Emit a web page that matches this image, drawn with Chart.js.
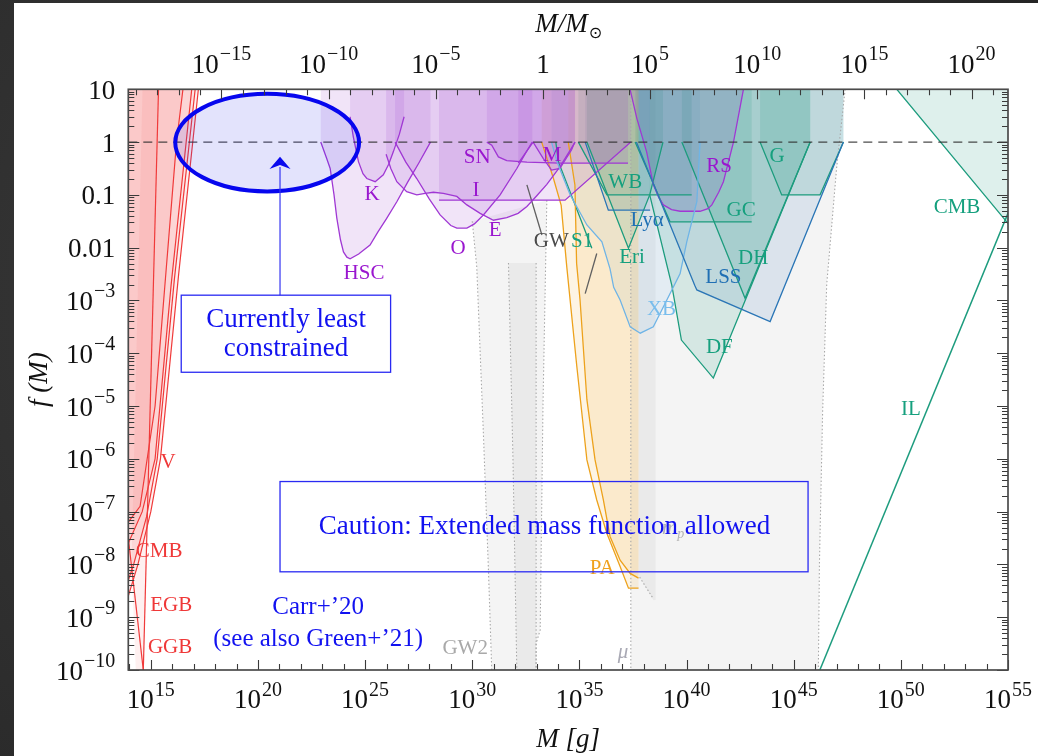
<!DOCTYPE html>
<html>
<head>
<meta charset="utf-8">
<script src="https://cdn.jsdelivr.net/npm/chart.js@4.4.1/dist/chart.umd.min.js"></script>
<style>
  html, body { margin: 0; padding: 0; width: 1038px; height: 756px; overflow: hidden;
    background: radial-gradient(circle at 30% 40%, #3a3a3a, #232323); }
  #panel { position: absolute; left: 14px; top: 3px; width: 1024px; height: 753px; background: #fff; }
  #panel canvas { display: block; }
</style>
</head>
<body>
<div id="panel"><canvas id="c"></canvas></div>
<script>
// ---- axes (log10 exponents) ----
const M_SUN = 1.989e33;               // grams
const X_MIN_EXP = 13.95, X_MAX_EXP = 55;
const Y_MIN_EXP = -10, Y_MAX_EXP = 1;
const xTickExps = [15, 20, 25, 30, 35, 40, 45, 50, 55];
const topTickExps = [-15, -10, -5, 0, 5, 10, 15, 20];
const yTickExps = [1, 0, -1, -2, -3, -4, -5, -6, -7, -8, -9, -10];

// ---- constraint boundaries: [log10(M / g), log10 f] ----
// evaporation
const evapEdge = [[14.65, -10], [15.36, 1]];
const evapCore = [[14.64, 1.5], [15.4, 1.5], [15.36, 1], [14.65, -10], [14.3, -10], [14.1, -8.0]];
const evapV    = [[13.95, -8.6], [14.4, -8.0], [15.0, -7.0], [15.45, -6.0], [16.3, -2.5], [17.22, 1]];
const evapCMB  = [[13.95, -8.3], [14.2, -8.0], [14.8, -7.1], [15.3, -6.0], [16.1, -2.6], [17.07, 1]];
const evapEGB  = [[13.95, -7.6], [14.6, -7.0], [15.2, -6.0], [15.95, -2.7], [16.91, 1]];
const evapGGB  = [[13.95, -7.2], [14.5, -6.9], [15.2, -5.0], [15.6, -3.0], [16.2, 0], [16.5, 1]];
const evapLow  = [[13.95, -7.5], [14.65, -10]];
// lensing
const HSC = [[22.93, 0], [23.2, -0.3], [23.37, -0.5], [23.55, -1.0], [23.68, -1.44], [23.85, -1.85], [23.99, -2.08],
             [24.15, -2.18], [24.3, -2.21], [24.7, -2.12], [25.23, -1.95], [25.6, -1.7], [26.0, -1.45],
             [26.48, -1.13], [27.0, -0.75], [27.5, -0.4], [28.05, 0]];
const K   = [[24.3, 0.48], [24.45, 0.1], [24.69, -0.37], [24.9, -0.6], [25.08, -0.69], [25.47, -0.75],
             [25.85, -0.62], [26.1, -0.42], [26.32, -0.18], [26.6, 0.15], [26.82, 0.48]];
const E   = [[25.98, -0.23], [26.2, -0.5], [26.48, -0.75], [26.94, -0.94], [27.41, -1.0], [27.8, -0.97],
             [28.19, -0.95], [28.65, -0.97], [29.28, -1.03], [29.75, -1.19], [30.37, -1.35], [30.99, -1.48],
             [31.61, -1.43], [32.14, -1.35], [32.55, -1.22], [33.0, -1.02], [33.48, -0.8], [34.09, -0.47],
             [34.5, -0.2], [34.8, 0]];
const O   = [[26.4, 0], [26.9, -0.38], [27.41, -0.69], [28.0, -1.08], [28.5, -1.38], [29.0, -1.58], [29.28, -1.63],
             [29.75, -1.63], [30.1, -1.55], [30.52, -1.38], [31.3, -1.0], [32.08, -0.5], [32.5, -0.2], [32.8, 0]];
const SN  = [[30.68, 0], [30.91, -0.06], [31.22, -0.28], [31.61, -0.35], [32.55, -0.38], [34.1, -0.4], [37.27, -0.4]];
const I   = [[28.45, -1.1], [34.33, -1.1], [37.4, 0]];
const M   = [[32.15, -0.4], [32.84, 0], [33.31, -0.31], [33.7, -0.53], [34.09, -0.5], [34.63, -0.15], [34.79, 0]];
const RS  = [[37.37, 0.99], [37.68, 0.45], [38.14, -0.19], [38.45, -0.81], [38.7, -1.05], [38.92, -1.19],
             [39.3, -1.28], [39.7, -1.31], [40.63, -1.31], [41.0, -1.26], [41.18, -1.19], [41.5, -0.95],
             [41.72, -0.75], [42.19, 0], [42.65, 0.99]];
// dynamical / accretion / large scale
const WB  = [[34.95, 0], [36.28, -1.0], [40.24, -1.0]];
const LYA = [[35.27, 0], [36.35, -1.29], [38.3, -1.29]];
const ERI = [[35.35, 0], [37.29, -2.01], [38.28, -1.0], [38.9, 0]];
const GC  = [[37.6, 0], [39.23, -1.51], [43.04, -1.51]];
const DH  = [[39.78, 0], [42.73, -2.96], [45.77, 0]];
const DF  = [[38.28, -1.0], [39.31, -2.71], [39.76, -3.75], [41.25, -4.47], [45.77, 0]];
const G   = [[43.43, 0], [44.44, -1.0], [46.23, -1.0], [47.32, 0]];
const LSS = [[37.66, 0], [40.38, -2.71], [40.48, -2.8], [43.9, -3.4], [47.32, 0]];
const XB  = [[33.7, 0], [33.95, -0.37], [34.57, -1.0], [35.35, -1.57], [36.05, -1.89], [36.43, -2.4], [36.6, -2.75],
             [36.9, -2.99], [37.37, -3.5], [37.84, -3.62], [38.45, -3.5], [39.08, -2.99], [39.7, -2.49],
             [40.01, -1.89], [40.48, -1.13], [40.63, 0]];
const PA_OUT = [[33.24, 0], [33.79, -0.69], [34.15, -1.2], [34.41, -2.36], [34.88, -4.25], [35.35, -6.02],
                [35.81, -6.78], [36.28, -7.41], [36.9, -8.04], [37.29, -8.45], [37.76, -8.45]];
const PA_IN  = [[34.48, 0], [34.79, -0.81], [34.87, -2.3], [35.03, -2.99], [35.35, -4.88], [35.73, -6.02],
                [36.12, -6.78], [36.43, -7.47], [36.9, -7.92], [37.37, -8.17], [37.76, -8.26]];
const S1   = [[33.9, 0], [34.02, -0.37], [35.0, -1.4], [35.58, -2.01]];
const GW_1 = [[32.55, -0.81], [33.25, -1.76]];
const GW_2 = [[35.81, -2.11], [35.27, -2.87]];
const CMB  = [[49.81, 1], [54.94, -1.51], [55.3, -1.69]];
const IL   = [[46.22, -10], [55.2, -1.15]];
// gravitational-wave and timing bounds (dotted)
const GW2_NEAR = [[30.0, -1.5], [30.21, -2.36], [30.52, -5.52], [30.75, -8.04], [30.91, -10]];
const GW2_FAR  = [[33.48, -1.1], [33.3, -5.0], [33.17, -9.24], [32.98, -9.5], [32.98, -10]];
const GWB_NEAR = [[31.69, -2.29], [31.9, -6.0], [32.08, -10]];
const GWB_FAR  = [[32.98, -2.29], [32.98, -10]];
const MU_NEAR  = [[37.4, 1], [37.4, -10]];
const MU_FAR   = [[47.4, 1], [47.0, -0.5], [46.54, -2.7], [46.35, -5.1], [46.2, -8.0], [46.15, -10]];
const MP_BAND  = [[37.76, 1.5], [37.76, -8.2], [38.45, -8.68], [38.56, -8.68], [38.56, 1.5]];
const MP_EDGE  = [[37.81, -8.24], [38.45, -8.65]];
const F_ONE    = [[X_MIN_EXP, 0], [X_MAX_EXP, 0]];

// ---- styling ----
const FONT = "'Liberation Serif', 'DejaVu Serif', 'Times New Roman', serif";
const C = {
  purple: '#a038d4', purpleFill: 'rgba(150,50,200,0.13)', purpleText: '#9a16cf',
  teal: '#1d9c7e', tealFill: 'rgba(20,150,120,0.14)', tealText: '#16a07e',
  blue: '#2b76b6', blueFill: 'rgba(30,100,170,0.12)', blueText: '#1f6fb4',
  sky: '#6fb4e6', skyFill: 'rgba(100,170,230,0.12)', skyText: '#79bdec',
  orange: '#eda21c', orangeFill: 'rgba(240,165,30,0.12)', orangeText: '#f0a21e',
  red: '#f03a3a', redFill: 'rgba(240,60,60,0.075)', redText: '#ef3838',
  grayFill: 'rgba(0,0,0,0.045)', dot: '#a8a8a8', gw: '#606060',
  note: '#1212f0', axis: '#111'
};

const TOP = 2.5, LEFT = X_MIN_EXP - 1;
const toPt = ([lx, ly]) => ({ x: 10 ** lx, y: 10 ** ly });
const closeTop = c => [...c, [c[c.length - 1][0], TOP], [c[0][0], TOP]];
const closeLeft = c => [...c, [c[c.length - 1][0], TOP], [LEFT, TOP], [LEFT, c[0][1]]];

function area(poly, color, order = 20) {
  return { data: poly.map(toPt), showLine: true, fill: 'shape', backgroundColor: color,
           borderWidth: 0, pointRadius: 0, order };
}
function edge(curve, color, width = 1.3, dash = [], order = 10) {
  return { data: curve.map(toPt), showLine: true, fill: false, borderColor: color,
           borderWidth: width, borderDash: dash, pointRadius: 0, order };
}
const dotted = c => edge(c, C.dot, 1.1, [1.5, 2.2], 12);

const datasets = [
  // gray bands
  area([...GW2_NEAR, ...GW2_FAR.slice().reverse()], C.grayFill, 30),
  area([...GWB_NEAR, ...GWB_FAR.slice().reverse()], C.grayFill, 30),
  area([...MU_NEAR, ...MU_FAR.slice().reverse()], C.grayFill, 30),
  area(MP_BAND, C.grayFill, 30),
  // evaporation
  area(evapCore, C.redFill), area(closeLeft(evapV), C.redFill),
  area(closeLeft(evapCMB), C.redFill), area(closeLeft(evapEGB), C.redFill),
  area(closeLeft(evapGGB), C.redFill),
  // lensing
  area(closeTop(HSC), C.purpleFill), area(closeTop(K), C.purpleFill), area(closeTop(E), C.purpleFill),
  area(closeTop(O), C.purpleFill), area(closeTop(SN), C.purpleFill), area(closeTop(I), C.purpleFill),
  area(closeTop(M), C.purpleFill), area(closeTop(RS), C.purpleFill),
  // accretion
  area(closeTop(PA_OUT), C.orangeFill), area(closeTop(PA_IN), C.orangeFill),
  // dynamical and large scale
  area(closeTop(WB), C.tealFill), area(closeTop(ERI), C.tealFill), area(closeTop(GC), C.tealFill),
  area(closeTop(DH), C.tealFill), area(closeTop(DF), C.tealFill), area(closeTop(G), C.tealFill),
  area(closeTop(CMB), C.tealFill),
  area(closeTop(LYA), C.blueFill), area(closeTop(LSS), C.blueFill), area(closeTop(XB), C.skyFill),
  // dotted bounds
  dotted(GW2_NEAR), dotted(GW2_FAR), dotted(GWB_NEAR), dotted(GWB_FAR),
  dotted(MU_NEAR), dotted(MU_FAR), dotted(MP_EDGE),
  // outlines
  edge(evapEdge, C.red, 1.2), edge(evapV, C.red, 1.2), edge(evapCMB, C.red, 1.2),
  edge(evapEGB, C.red, 1.2), edge(evapGGB, C.red, 1.2), edge(evapLow, C.red, 1.2),
  edge(HSC, C.purple), edge(K, C.purple), edge(E, C.purple), edge(O, C.purple), edge(SN, C.purple),
  edge(I, C.purple), edge(M, C.purple), edge(RS, C.purple),
  edge(PA_OUT, C.orange), edge(PA_IN, C.orange),
  edge(WB, C.teal), edge(ERI, C.teal), edge(GC, C.teal), edge(DH, C.teal), edge(DF, C.teal),
  edge(G, C.teal), edge(S1, C.teal), edge(CMB, C.teal), edge(IL, C.teal, 1.5),
  edge(XB, C.sky, 1.3, [], 9), edge(LYA, C.blue, 1.3, [], 8), edge(LSS, C.blue, 1.3, [], 8),
  edge(GW_1, C.gw, 1.3), edge(GW_2, C.gw, 1.3),
  edge(F_ONE, 'rgba(45,45,45,0.85)', 1.3, [9, 6], 2)
];

// ---- text placed in data coordinates ----
const regionLabels = [
  { t: 'HSC', at: [24.95, -2.48], c: C.purpleText }, { t: 'K', at: [25.32, -1.0], c: C.purpleText },
  { t: 'SN', at: [30.23, -0.3], c: C.purpleText }, { t: 'I', at: [30.18, -0.91], c: C.purpleText },
  { t: 'O', at: [29.34, -2.01], c: C.purpleText }, { t: 'E', at: [31.07, -1.67], c: C.purpleText },
  { t: 'M', at: [33.73, -0.25], c: C.purpleText }, { t: 'RS', at: [41.52, -0.47], c: C.purpleText },
  { t: 'GW', at: [33.69, -1.89], c: '#4a4a4a' }, { t: 'S1', at: [35.13, -1.89], c: C.tealText },
  { t: 'WB', at: [37.14, -0.76], c: C.tealText }, { t: 'Lyα', at: [38.16, -1.48], c: C.blueText },
  { t: 'Eri', at: [37.46, -2.18], c: C.tealText }, { t: 'GC', at: [42.55, -1.29], c: C.tealText },
  { t: 'DH', at: [43.11, -2.2], c: C.tealText }, { t: 'LSS', at: [41.72, -2.57], c: C.blueText },
  { t: 'G', at: [44.22, -0.28], c: C.tealText }, { t: 'DF', at: [41.53, -3.9], c: C.tealText },
  { t: 'XB', at: [38.83, -3.18], c: C.skyText }, { t: 'CMB', at: [52.62, -1.23], c: C.tealText },
  { t: 'IL', at: [50.47, -5.07], c: C.tealText }, { t: 'PA', at: [36.07, -8.07], c: C.orangeText },
  { t: 'V', at: [15.81, -6.06], c: C.redText }, { t: 'CMB', at: [15.39, -7.76], c: C.redText },
  { t: 'EGB', at: [15.95, -8.77], c: C.redText }, { t: 'GGB', at: [15.9, -9.58], c: C.redText },
  { t: 'GW2', at: [29.67, -9.6], c: '#a9a9a9' }, { t: 'μ', at: [37.04, -9.66], c: '#a9a9b4', it: true }
];

// tick text: [base, exponent]
const powerParts = e => (e === 0 ? ['1', ''] : ['10', String(e).replace('-', '\u2212')]);
const yParts = e => (e === 1 ? ['10', ''] : e === 0 ? ['1', ''] : e === -1 ? ['0.1', ''] :
                     e === -2 ? ['0.01', ''] : powerParts(e));

// annotations: highlighted window, call-out boxes and captions
const notes = {
  id: 'notes',
  afterDatasetsDraw(chart) {
    const { ctx, scales: { x, y } } = chart;
    const P = (lx, ly) => [x.getPixelForValue(10 ** lx), y.getPixelForValue(10 ** ly)];
    ctx.save();
    ctx.textAlign = 'center';
    ctx.textBaseline = 'middle';
    for (const l of regionLabels) {
      const [px, py] = P(...l.at);
      ctx.fillStyle = l.c;
      ctx.font = (l.it ? 'italic ' : '') + '21px ' + FONT;
      ctx.fillText(l.t, px, py);
    }
    {
      const [px, py] = P(39.4, -7.31);
      ctx.fillStyle = '#b4b4b4';
      ctx.font = 'italic 21px ' + FONT;
      ctx.fillText('m', px - 4, py);
      ctx.font = 'italic 14px ' + FONT;
      ctx.fillText('p', px + 7, py + 6);
    }
    const [cx, cy] = P(20.43, -0.01);
    const [ex] = P(20.43 + 4.29, 0);
    const [, ey] = P(20.43, 0.914);
    ctx.beginPath();
    ctx.ellipse(cx, cy, ex - cx, cy - ey, 0, 0, Math.PI * 2);
    ctx.fillStyle = 'rgba(60,60,235,0.14)';
    ctx.fill();
    ctx.lineWidth = 4;
    ctx.strokeStyle = '#0606ee';
    ctx.stroke();
    const [ax, ay0] = P(21.03, -2.9);
    const [, tipY] = P(21.03, -0.28);
    const [, baseY] = P(21.03, -0.51);
    ctx.lineWidth = 1.2;
    ctx.strokeStyle = '#3535f2';
    ctx.beginPath(); ctx.moveTo(ax, ay0); ctx.lineTo(ax, baseY - 2); ctx.stroke();
    ctx.fillStyle = '#0a0aee';
    ctx.beginPath();
    ctx.moveTo(ax, tipY); ctx.lineTo(ax + 10.5, baseY); ctx.lineTo(ax, baseY - 4); ctx.lineTo(ax - 10.5, baseY);
    ctx.closePath(); ctx.fill();
    ctx.strokeStyle = '#2a2af2';
    ctx.lineWidth = 1.3;
    const box = (x0, y0, x1, y1) => {
      const [a, b] = P(x0, y0), [c, d] = P(x1, y1);
      ctx.strokeRect(a, b, c - a, d - b);
    };
    box(16.42, -2.9, 26.19, -4.36);
    box(21.03, -6.43, 45.67, -8.14);
    ctx.fillStyle = C.note;
    ctx.font = '27px ' + FONT;
    let p = P(21.31, -3.37); ctx.fillText('Currently least', p[0], p[1]);
    p = P(21.31, -3.91); ctx.fillText('constrained', p[0], p[1]);
    p = P(33.37, -7.29); ctx.fillText('Caution: Extended mass function allowed', p[0], p[1]);
    ctx.font = '25px ' + FONT;
    p = P(22.81, -8.81); ctx.fillText('Carr+’20', p[0], p[1]);
    p = P(22.81, -9.43); ctx.fillText('(see also Green+’21)', p[0], p[1]);
    ctx.restore();
  }
};

// frame, inward ticks, power-of-ten tick labels and the solar-mass axis title
const frameTicks = {
  id: 'frameTicks',
  afterDraw(chart) {
    const { ctx, chartArea: a, scales: { x, x2, y } } = chart;
    ctx.save();
    ctx.strokeStyle = '#3a3a3a';
    ctx.lineWidth = 1.1;
    ctx.beginPath();
    for (let e = Math.ceil(X_MIN_EXP); e <= X_MAX_EXP; e++) {
      const px = Math.round(x.getPixelForValue(10 ** e)) + 0.5;
      const L = e % 5 === 0 ? 10 : 6;
      ctx.moveTo(px, a.bottom); ctx.lineTo(px, a.bottom - L);
    }
    const ls = Math.log10(M_SUN);
    for (let e = Math.ceil(X_MIN_EXP - ls); e <= Math.floor(X_MAX_EXP - ls); e++) {
      const px = Math.round(x2.getPixelForValue(10 ** e)) + 0.5;
      const L = e % 5 === 0 ? 10 : 6;
      ctx.moveTo(px, a.top); ctx.lineTo(px, a.top + L);
    }
    for (let d = Y_MIN_EXP; d <= Y_MAX_EXP; d++) {
      for (let m = 1; m < 10; m++) {
        if (d === Y_MAX_EXP && m > 1) break;
        const py = Math.round(y.getPixelForValue(m * 10 ** d)) + 0.5;
        const L = m === 1 ? 11 : 6;
        ctx.moveTo(a.left, py); ctx.lineTo(a.left + L, py);
        ctx.moveTo(a.right, py); ctx.lineTo(a.right - L, py);
      }
    }
    ctx.stroke();
    ctx.lineWidth = 1.7;
    ctx.strokeStyle = '#4a4a4a';
    ctx.strokeRect(a.left, a.top, a.right - a.left, a.bottom - a.top);

    // tick labels with raised exponents
    const BASE = '27px ' + FONT, EXP = '20px ' + FONT;
    ctx.fillStyle = C.axis;
    ctx.textBaseline = 'alphabetic';
    ctx.textAlign = 'left';
    const put = ([base, exp], px, py, align) => {
      ctx.font = BASE; const wb = ctx.measureText(base).width;
      ctx.font = EXP; const we = exp ? ctx.measureText(exp).width + 1 : 0;
      const x0 = align === 'center' ? px - (wb + we) / 2 : px - (wb + we);
      ctx.font = BASE; ctx.fillText(base, x0, py);
      if (exp) { ctx.font = EXP; ctx.fillText(exp, x0 + wb + 1, py - 12.5); }
    };
    for (const t of x.ticks) put(powerParts(Math.round(Math.log10(t.value))), x.getPixelForValue(t.value), a.bottom + 38, 'center');
    for (const t of x2.ticks) put(powerParts(Math.round(Math.log10(t.value))), x2.getPixelForValue(t.value), a.top - 16.5, 'center');
    for (const t of y.ticks) put(yParts(Math.round(Math.log10(t.value))), a.left - 13, y.getPixelForValue(t.value) + 9.5, 'right');

    // M / M_sun title with subscript sun symbol
    ctx.font = 'italic 27px ' + FONT;
    const w1 = ctx.measureText('M/M').width;
    ctx.font = "16px 'DejaVu Sans', sans-serif";
    const w2 = ctx.measureText('⊙').width;
    const tx = (a.left + a.right) / 2 - (w1 + w2) / 2;
    ctx.font = 'italic 27px ' + FONT;
    ctx.fillText('M/M', tx, 28.5);
    ctx.font = "16px 'DejaVu Sans', sans-serif";
    ctx.fillText('⊙', tx + w1 + 1, 35);
    ctx.restore();
  }
};

const titleFont = { family: FONT, size: 27, style: 'italic' };
const tickSetter = exps => s => { s.ticks = exps.map(e => ({ value: 10 ** e })); };

new Chart(document.getElementById('c'), {
  type: 'scatter',
  data: { datasets },
  options: {
    responsive: true,
    maintainAspectRatio: false,
    animation: false,
    events: [],
    layout: { padding: { left: 0, right: 30, top: 0, bottom: 0 } },
    elements: { point: { radius: 0 }, line: { tension: 0 } },
    plugins: { legend: { display: false }, tooltip: { enabled: false } },
    scales: {
      x: {
        type: 'logarithmic', position: 'bottom', bounds: 'data',
        min: 10 ** X_MIN_EXP, max: 10 ** X_MAX_EXP,
        grid: { display: false, drawTicks: false }, border: { display: false },
        afterBuildTicks: tickSetter(xTickExps),
        afterFit: s => { s.height = 86; },
        ticks: { display: false, autoSkip: false },
        title: { display: true, text: 'M [g]', font: titleFont, color: C.axis, padding: { top: 0, bottom: 0 } }
      },
      x2: {
        type: 'logarithmic', position: 'top', bounds: 'data',
        min: 10 ** X_MIN_EXP / M_SUN, max: 10 ** X_MAX_EXP / M_SUN,
        grid: { display: false, drawTicks: false }, border: { display: false },
        afterBuildTicks: tickSetter(topTickExps),
        afterFit: s => { s.height = 86.3; },
        ticks: { display: false, autoSkip: false }
      },
      y: {
        type: 'logarithmic', position: 'left', bounds: 'data',
        min: 10 ** Y_MIN_EXP, max: 10 ** Y_MAX_EXP,
        grid: { display: false, drawTicks: false }, border: { display: false },
        afterBuildTicks: tickSetter(yTickExps),
        afterFit: s => { s.width = 114.3; },
        ticks: { display: false, autoSkip: false },
        title: { display: true, text: 'f (M)', font: titleFont, color: C.axis, padding: { top: 10, bottom: 0 } }
      }
    }
  },
  plugins: [notes, frameTicks]
});
</script>
</body>
</html>
